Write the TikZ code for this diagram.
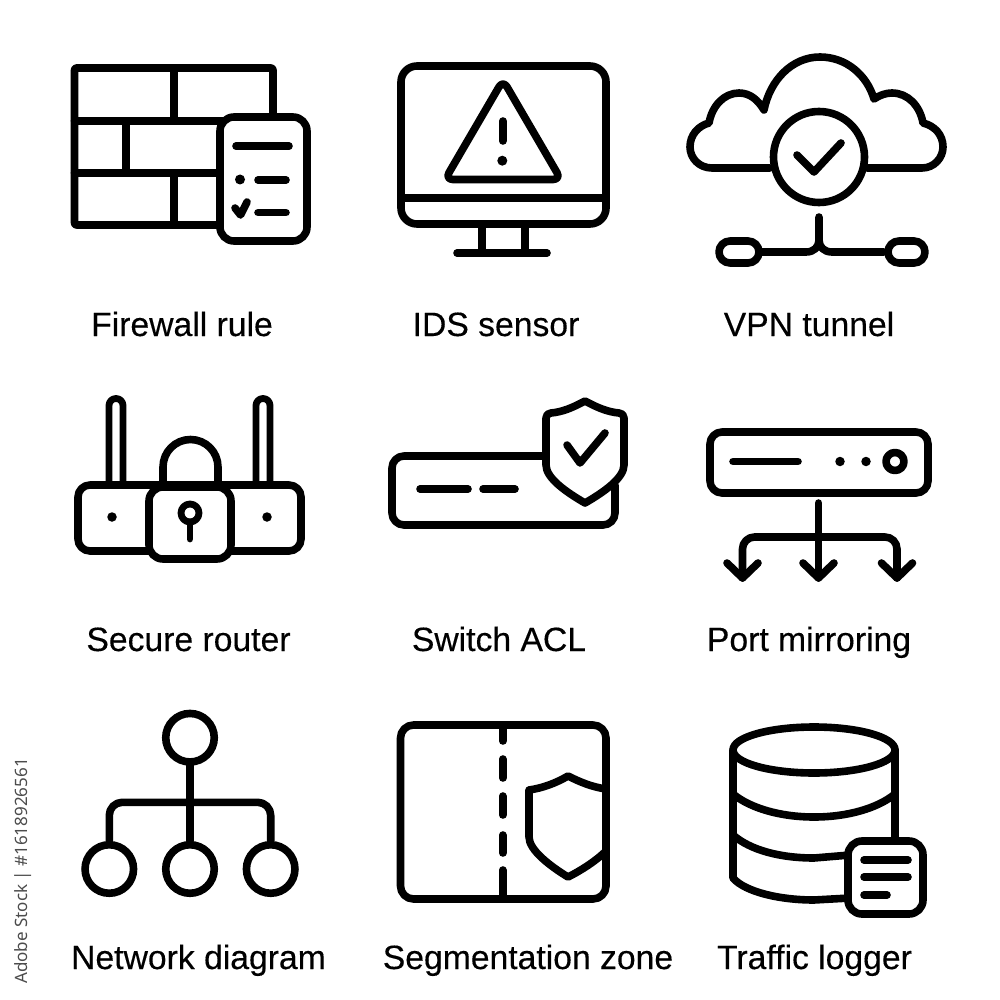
\documentclass[tikz,border=0pt]{standalone}
\usepackage{fontspec}
\setmainfont{Liberation Sans}[FakeBold=0.3]
\newfontfamily\sidefont{Noto Sans}
\tikzset{
  ln/.style={line width=7.6pt,line cap=round,line join=round,black},
  lnw/.style={ln,fill=white},
  thin ln/.style={line width=6.8pt,line cap=round,line join=round,black},
  lab/.style={font=\fontsize{33.7}{38}\selectfont,text=black,inner sep=0pt,anchor=base},
  dot/.style={circle,fill=black,inner sep=0pt,minimum size=#1},
  ring/.style={circle,draw=black,line width=7.6pt,minimum size=#1,inner sep=0pt}
}
\begin{document}
\begin{tikzpicture}[x=1pt,y=-1pt]
\useasboundingbox (0,0) rectangle (1000,1000);
\fill[white] (0,0) rectangle (1000,1000);
% Firewall
\draw[ln,rounded corners=2pt] (74.5,68) rectangle (273,225);
\draw[ln] (74.5,121) -- (273,121) (74.5,173) -- (273,173) (173.7,68) -- (173.7,121) (126,121) -- (126,173) (173.7,173) -- (173.7,225);
\draw[lnw,rounded corners=14pt] (220,117) rectangle (307,241);
\draw[ln] (236,146.3) -- (289,146.3) (258,180) -- (286,180) (258,212.7) -- (286,212.7);
\node[dot=10pt] (fwdot) at (240,179.5) {};
\draw[ln] (235,208) -- (240.5,215) -- (247,202);
% IDS
\draw[ln,rounded corners=16pt] (401,66) rectangle (606,224);
\draw[ln] (401,198) -- (606,198) (481.7,224) -- (481.7,253) (525,224) -- (525,253) (457,253) -- (547,253);
\draw[ln,rounded corners=8pt] (503,80) -- (561,179.5) -- (445,179.5) -- cycle;
\draw[ln] (502.7,121) -- (502.7,141);
\node[dot=10pt] (idsdot) at (502.3,160.7) {};
% VPN
\draw[ln] (770,168) -- (712,168) .. controls (699,168) and (690,158) .. (690,147) .. controls (690,135) and (698,126) .. (709,123) .. controls (712,106) and (724,93) .. (739,93) .. controls (750,93) and (758,100) .. (764,110) .. controls (770,80) and (792,57) .. (820,57) .. controls (846,57) and (867,75) .. (874,99) .. controls (880,95) and (886,93) .. (892,93) .. controls (908,93) and (920,106) .. (923,123) .. controls (935,126) and (943,135) .. (943,147) .. controls (943,158) and (934,168) .. (922,168) -- (867,168);
\node[ring=91pt] (vpnc) at (819,157) {};
\draw[ln] (797,155) -- (814,172) -- (841,143);
\draw[ln,rounded corners=11pt] (719,241) rectangle (759,263);
\draw[ln,rounded corners=11pt] (888,241) rectangle (925,263);
\draw[ln] (762,252) -- (806,252) .. controls (814,252) and (819,247) .. (819,240) -- (819,217);
\draw[ln] (884,252) -- (832,252) .. controls (824,252) and (819,247) .. (819,240);
% Secure router
\draw[thin ln] (109,481) -- (109,405.5) arc[start angle=180,end angle=360,radius=7] -- (123,481);
\draw[thin ln] (256,481) -- (256,405.5) arc[start angle=180,end angle=360,radius=7] -- (270,481);
\draw[lnw,rounded corners=12pt] (78,485) rectangle (301,551);
\node[dot=9.5pt] (rd1) at (112,517) {};
\node[dot=9.5pt] (rd2) at (267,517) {};
\draw[ln] (163,485) -- (163,467) arc[start angle=180,end angle=360,radius=27.5] -- (218,485);
\draw[lnw,rounded corners=14pt] (149,487) rectangle (231,559);
\draw[thin ln] (190,513) circle[radius=9];
\draw[thin ln] (190,522) -- (190,539);
% Switch ACL
\draw[ln] (543,456) -- (404,456) arc[start angle=270,end angle=180,radius=12] -- (392,513) arc[start angle=180,end angle=90,radius=12] -- (603,525) arc[start angle=90,end angle=0,radius=12] -- (615,485);
\draw[ln] (420,489) -- (468,489) (483,489) -- (515,489);
\draw[lnw] (585,401) .. controls (572,408) and (562,412) .. (551,413) .. controls (548,413) and (546,415) .. (546,418) -- (546,465) .. controls (546,478) and (566,492) .. (585,503) .. controls (604,492) and (624,478) .. (624,465) -- (624,418) .. controls (624,415) and (622,413) .. (619,413) .. controls (608,412) and (598,408) .. (585,401) -- cycle;
\draw[ln] (567,445) -- (580,463) -- (605,433);
% Port mirroring
\draw[ln,rounded corners=12pt] (710,432) rectangle (928,493);
\draw[ln] (733,461.5) -- (798,461.5);
\node[dot=9.5pt] (pd1) at (840,461.5) {};
\node[dot=9.5pt] (pd2) at (866,461.5) {};
\draw[ln] (895,461.5) circle[radius=9];
\draw[ln] (818.5,503) -- (818.5,578);
\draw[ln] (742.5,578) -- (742.5,549) arc[start angle=180,end angle=270,radius=12] -- (885,537) arc[start angle=270,end angle=360,radius=12] -- (897,578);
\draw[ln] (727,563) -- (742.5,578) -- (758,563);
\draw[ln] (803,563) -- (818.5,578) -- (834,563);
\draw[ln] (881.5,563) -- (897,578) -- (912.5,563);
% Network diagram
\node[ring=48.5pt] (nt) at (190,737.7) {};
\node[ring=48.5pt] (nl) at (109.3,869) {};
\node[ring=48.5pt] (nm) at (190,869) {};
\node[ring=48.5pt] (nr) at (270.7,869) {};
\draw[ln] (nt) -- (nm);
\draw[ln,rounded corners=13pt] (nl.north) -- (109.3,802.3) -- (270.7,802.3) -- (nr.north);
% Segmentation
\draw[ln,rounded corners=13pt] (400.5,725) rectangle (606,899);
\draw[ln] (502.7,725) -- (502.7,741) (502.7,759) -- (502.7,778) (502.7,796) -- (502.7,815) (502.7,835) -- (502.7,853) (502.7,870) -- (502.7,899);
\draw[ln] (606,789) .. controls (592,787) and (580,782) .. (568,776) .. controls (556,783) and (543,788) .. (529,790) -- (529,837) .. controls (529,850) and (550,866) .. (568,877) .. controls (582,870) and (597,860) .. (606,851);
% Logger
\draw[ln] (733,750) .. controls (733,737) and (770,727) .. (814,727) .. controls (858,727) and (895,737) .. (895,750) .. controls (895,763) and (858,773) .. (814,773) .. controls (770,773) and (733,763) .. cycle;
\draw[ln] (733,750) -- (733,878) .. controls (745,892) and (780,900) .. (814,900) -- (850,898);
\draw[ln] (895,750) -- (895,840);
\draw[ln] (733,794) .. controls (750,808) and (780,817) .. (814,817) .. controls (848,817) and (878,808) .. (895,794);
\draw[ln] (733,835) .. controls (750,850) and (780,858) .. (814,858) -- (850,855);
\draw[lnw,rounded corners=14pt] (848,841) rectangle (923,914);
\draw[ln] (864,860) -- (908,860) (864,877) -- (908,877) (864,895) -- (887,895);
% Labels
\node[lab] (l1) at (182,336) {Firewall rule};
\node[lab] (l2) at (496,336) {IDS sensor};
\node[lab] (l3) at (809,336) {VPN tunnel};
\node[lab] (l4) at (188.5,651) {Secure router};
\node[lab] (l5) at (499,651) {Switch ACL};
\node[lab] (l6) at (809,651) {Port mirroring};
\node[lab] (l7) at (198.5,969) {Network diagram};
\node[lab] (l8) at (528,969) {Segmentation zone};
\node[lab] (l9) at (814.5,969) {Traffic logger};
\node[inner sep=0pt,rotate=90,font=\sidefont\fontsize{17}{20}\selectfont,text=black!70] (stock) at (23,871) {Adobe Stock | \#1618926561};
\end{tikzpicture}
\end{document}
